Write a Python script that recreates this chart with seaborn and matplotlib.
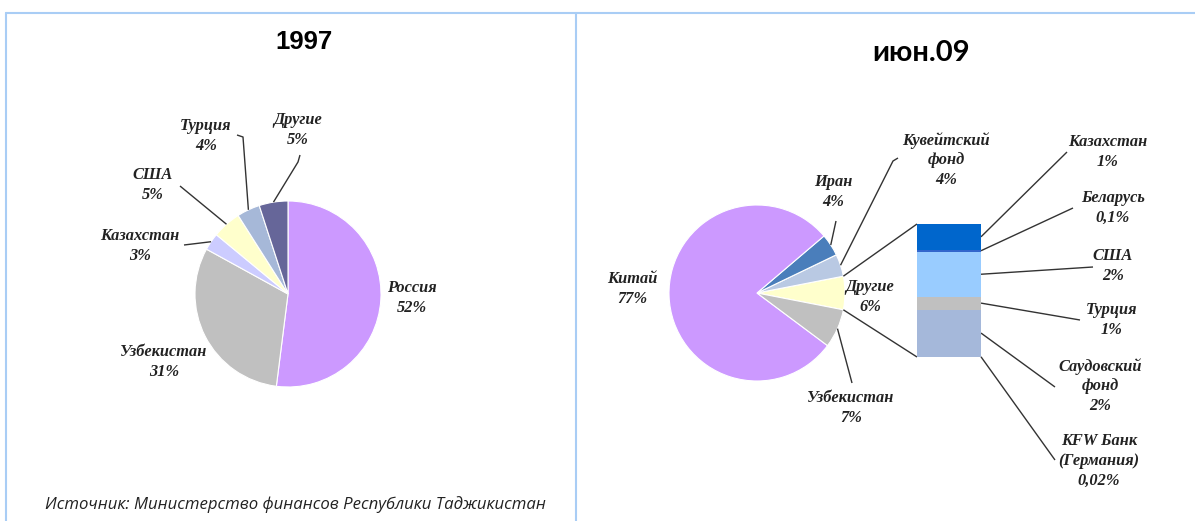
import matplotlib.pyplot as plt
import numpy as np
import seaborn as sns

sns.set_theme(style="white")
plt.rcParams["font.family"] = ["DejaVu Sans"]

# 1997
left_names = ["Россия", "Узбекистан", "Казахстан", "США", "Турция", "Другие"]
left_values = [52, 31, 3, 5, 4, 5]
left_colors = ["#CC99FF", "#C0C0C0", "#CCCCFF", "#FFFFCC", "#A6B8D8", "#666699"]

# июн.09
right_names = ["Другие", "Кувейтский\nфонд", "Иран", "Китай", "Узбекистан"]
right_values = [6, 4, 4, 77, 7]
right_colors = ["#FFFFCC", "#B9C9E3", "#4A7EBB", "#CC99FF", "#C0C0C0"]

# "Другие" broken down (bottom to top of the bar)
other_names = ["KFW Банк\n(Германия)", "Саудовский\nфонд", "Турция", "США", "Беларусь", "Казахстан"]
other_values = [0.02, 2.2, 0.6, 2.1, 0.1, 1.2]
other_labels = ["0,02%", "2%", "1%", "2%", "0,1%", "1%"]
other_colors = ["#7F9FCF", "#A5B8DA", "#C0C0C0", "#99CCFF", "#3366CC", "#0066CC"]

W, H = 1195, 521
fig = plt.figure(figsize=(W / 100, H / 100), dpi=100)
ax = fig.add_axes([0, 0, 1, 1])

def Y(y):
    return H - y

label_font = dict(family="Liberation Serif", style="italic", weight="bold",
                  size=11.8, color="#222222", ha="center", va="center", linespacing=1.3)
line_kw = dict(color="#333333", lw=1.0, solid_capstyle="butt")

# label centre and leader-line end points (pixels from top)
left_layout = {
    "Россия": ((412, 298), None),
    "Узбекистан": ((164, 362), None),
    "Казахстан": ((140, 246), [(184, 245)]),
    "США": ((153, 185), [(180, 186)]),
    "Турция": ((206, 136), [(237, 135), (243, 137)]),
    "Другие": ((298, 130), [(300, 155), (298, 162)]),
}
right_layout = {
    "Китай": ((632, 289), None),
    "Иран": ((833, 192), [(836, 221)]),
    "Кувейтский\nфонд": ((946, 160), [(898, 158), (893, 161)]),
    "Другие": ((870, 297), None),
    "Узбекистан": ((851, 408), [(852, 383)]),
}
bar_layout = {
    "Казахстан": ((1108, 152), (1067, 152)),
    "Беларусь": ((1113, 208), (1073, 208)),
    "США": ((1113, 266), (1093, 267)),
    "Турция": ((1112, 320), (1080, 320)),
    "Саудовский\nфонд": ((1100, 386), (1055, 387)),
    "KFW Банк\n(Германия)": ((1099, 461), (1055, 460)),
}

def rim(w, frac=0.5):
    a = np.deg2rad(w.theta1 + (w.theta2 - w.theta1) * frac)
    return w.center[0] + w.r * np.cos(a), w.center[1] + w.r * np.sin(a)

def draw_labels(wedges, names, values, layout):
    for w, name, v in zip(wedges, names, values):
        (cx, cy), pts = layout[name]
        ax.text(cx, Y(cy), f"{name}\n{v}%", **label_font)
        if pts:
            xs = [p[0] for p in pts]
            ys = [Y(p[1]) for p in pts]
            rx, ry = rim(w)
            ax.plot(xs + [rx], ys + [ry], **line_kw)

wedge_kw = dict(edgecolor="white", linewidth=0.8)

# left pie
lw, _ = ax.pie(left_values, colors=left_colors, startangle=90, counterclock=False,
               center=(288, Y(294)), radius=93, wedgeprops=wedge_kw)
draw_labels(lw, left_names, left_values, left_layout)

# right pie, "Другие" centred on the right
start = -360 * right_values[0] / sum(right_values) / 2
rw, _ = ax.pie(right_values, colors=right_colors, startangle=start,
               center=(757, Y(293)), radius=88, wedgeprops=wedge_kw)
draw_labels(rw, right_names, right_values, right_layout)

ax.set_xlim(0, W)
ax.set_ylim(0, H)
ax.axis("off")

# stacked bar for "Другие"
bax = fig.add_axes([917 / W, (H - 357) / H, 64 / W, 133 / H])
bottoms = np.concatenate([[0], np.cumsum(other_values)[:-1]])
bax.bar(0, other_values, bottom=bottoms, width=1, color=other_colors, linewidth=0)
bax.set_xlim(-0.5, 0.5)
bax.set_ylim(0, sum(other_values))
bax.axis("off")

to_ax = ax.transData.inverted()
for name, lab, v, b in zip(other_names, other_labels, other_values, bottoms):
    (cx, cy), (ex, ey) = bar_layout[name]
    ax.text(cx, Y(cy), f"{name}\n{lab}", **label_font)
    sx, sy = to_ax.transform(bax.transData.transform((0.5, b + v / 2)))
    ax.plot([sx, ex], [sy, Y(ey)], **line_kw)

# connectors pie -> bar
others = rw[0]
tx, ty = to_ax.transform(bax.transData.transform((-0.5, sum(other_values))))
bx, by = to_ax.transform(bax.transData.transform((-0.5, 0)))
p_top = rim(others, 1.0)
p_bot = rim(others, 0.0)
ax.plot([p_top[0], tx], [p_top[1], ty], **line_kw)
ax.plot([p_bot[0], bx], [p_bot[1], by], **line_kw)

# titles and source
ax.text(304, Y(42), "1997", family="Liberation Sans", weight="bold", size=18.5,
        ha="center", va="center", color="black")
ax.text(921, Y(53), "июн.09", family="Lato", weight="bold", size=21,
        ha="center", va="center", color="black")
ax.text(45, Y(505), "Источник: Министерство финансов Республики Таджикистан",
        family="Open Sans", style="italic", size=12.1, ha="left", va="center", color="#222222")

# frame lines
frame = dict(color="#A9CDF5", lw=1.5)
ax.plot([6, W], [Y(13), Y(13)], **frame)
ax.plot([6, 6], [Y(13), 0], **frame)
ax.plot([576, 576], [Y(13), 0], **frame)

fig.savefig("out.png", dpi=100)
